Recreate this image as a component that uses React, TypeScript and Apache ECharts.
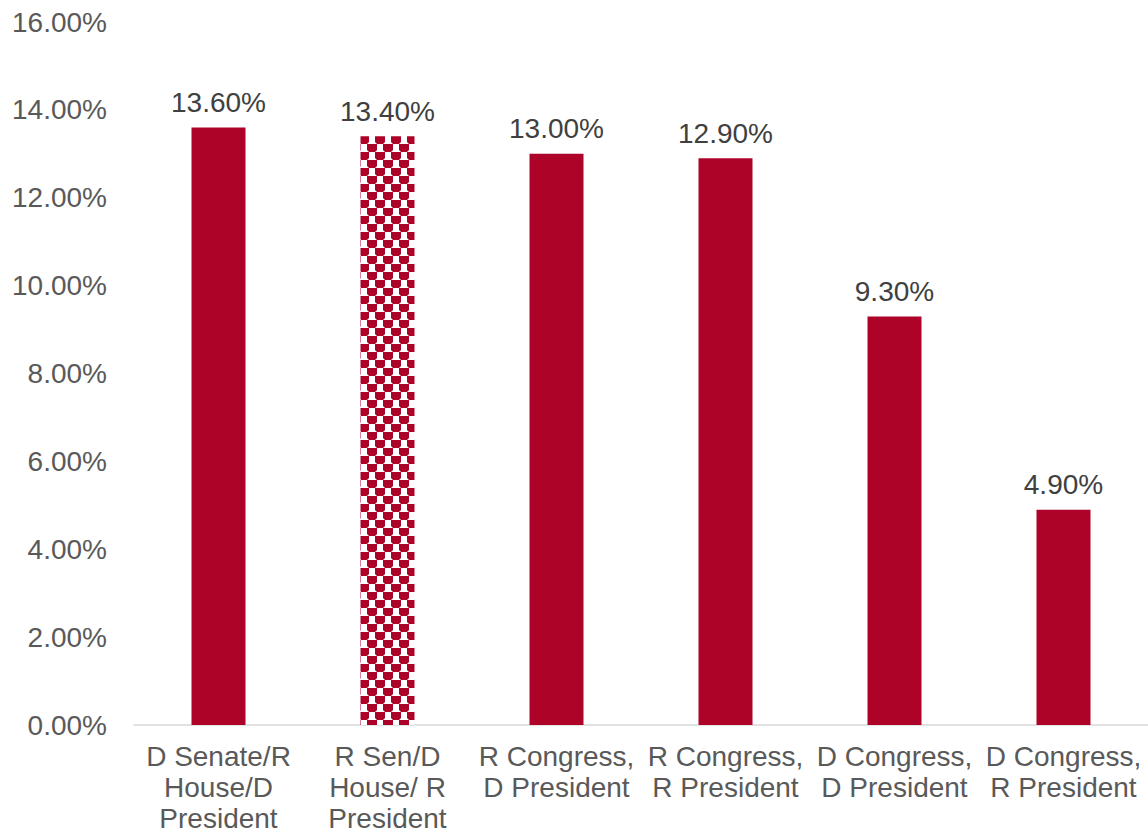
import React, { useEffect, useRef } from "react";
import * as echarts from "echarts";

const categories = [
  "D Senate/R\nHouse/D\nPresident",
  "R Sen/D\nHouse/ R\nPresident",
  "R Congress,\nD President",
  "R Congress,\nR President",
  "D Congress,\nD President",
  "D Congress,\nR President",
];
const values = [13.6, 13.4, 13.0, 12.9, 9.3, 4.9];
const patternIndex = 1;
const RED = "#AD0328";

function makePattern() {
  const c = document.createElement("canvas");
  c.width = 16;
  c.height = 16;
  const ctx = c.getContext("2d")!;
  ctx.fillStyle = "#ffffff";
  ctx.fillRect(0, 0, 16, 16);
  ctx.fillStyle = RED;
  const blob = (x: number, y: number) => {
    ctx.beginPath();
    ctx.moveTo(x, y);
    ctx.lineTo(x + 10, y);
    ctx.lineTo(x + 10, y + 6);
    ctx.lineTo(x + 8, y + 8);
    ctx.lineTo(x + 2, y + 8);
    ctx.lineTo(x, y + 6);
    ctx.closePath();
    ctx.fill();
  };
  for (const [x, y] of [
    [0, 0],
    [16, 0],
    [-16, 0],
    [8, 8],
    [-8, 8],
    [0, 16],
    [16, 16],
    [8, -8],
  ]) {
    blob(x - 1, y);
  }
  return c;
}

export default function App() {
  const ref = useRef<HTMLDivElement>(null);
  useEffect(() => {
    if (!ref.current) return;
    const chart = echarts.init(ref.current, undefined, { renderer: "svg" });
    const pattern = makePattern();
    chart.setOption({
      animation: false,
      textStyle: { fontFamily: "Liberation Sans, Arial, sans-serif" },
      grid: {
        left: 134,
        right: 0,
        top: 22,
        bottom: 110,
        containLabel: false,
        outerBoundsMode: "none",
      },
      xAxis: {
        type: "category",
        data: categories,
        axisLine: { lineStyle: { color: "#D9D9D9", width: 1.5 } },
        axisTick: { show: false },
        axisLabel: {
          color: "#595959",
          fontSize: 28,
          lineHeight: 31,
          margin: 16,
          interval: 0,
        },
      },
      yAxis: {
        type: "value",
        min: 0,
        max: 16,
        interval: 2,
        splitLine: { show: false },
        axisLine: { show: false },
        axisTick: { show: false },
        axisLabel: {
          color: "#595959",
          fontSize: 28,
          margin: 27,
          formatter: (v: number) => v.toFixed(2) + "%",
        },
      },
      series: [
        {
          type: "bar",
          barWidth: 54,
          data: values.map((v, i) => ({
            value: v,
            itemStyle: {
              color:
                i === patternIndex
                  ? { image: pattern, repeat: "repeat" }
                  : RED,
            },
          })),
          label: {
            show: true,
            position: "top",
            distance: 11,
            color: "#404040",
            fontSize: 28,
            formatter: (p: any) => p.value.toFixed(2) + "%",
          },
        },
      ],
    });
    return () => chart.dispose();
  }, []);
  return (
    <div
      ref={ref}
      style={{ position: "fixed", left: 0, top: 0, width: 1148, height: 835, background: "#fff" }}
    />
  );
}
